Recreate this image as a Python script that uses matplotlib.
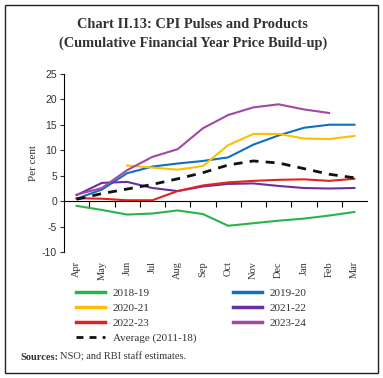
import matplotlib
matplotlib.use("Agg")
import matplotlib.pyplot as plt
from matplotlib.patches import Rectangle
from matplotlib.lines import Line2D
from matplotlib.transforms import blended_transform_factory

plt.rcParams["axes.unicode_minus"] = False

months = ["Apr", "May", "Jun", "Jul", "Aug", "Sep", "Oct", "Nov", "Dec", "Jan", "Feb", "Mar"]

s2018 = [-0.9, -1.7, -2.6, -2.4, -1.8, -2.5, -4.8, -4.3, -3.8, -3.4, -2.8, -2.1]
s2019 = [0.5, 2.3, 5.5, 6.8, 7.4, 7.9, 8.6, 11.1, 12.9, 14.4, 15.0, 15.0]
s2020 = [None, None, 7.0, 6.6, 6.2, 6.9, 11.0, 13.2, 13.2, 12.3, 12.2, 12.8]
s2021 = [1.2, 3.6, 3.8, 2.6, 2.0, 2.9, 3.4, 3.5, 3.0, 2.6, 2.5, 2.6]
s2022 = [0.6, 0.5, 0.2, 0.2, 2.0, 3.1, 3.7, 4.0, 4.2, 4.3, 4.0, 4.4]
s2023 = [1.3, 2.6, 6.1, 8.7, 10.2, 14.3, 16.9, 18.4, 19.0, 18.0, 17.3, None]
avg = [0.4, 1.5, 2.4, 3.3, 4.4, 5.6, 7.1, 7.9, 7.5, 6.4, 5.3, 4.6]

series = [
    ("2018-19", s2018, "#2bb34b", "-"),
    ("2020-21", s2020, "#ffbf00", "-"),
    ("2022-23", s2022, "#e2231a", "-"),
    ("Average (2011-18)", avg, "#111111", "--"),
    ("2019-20", s2019, "#0f6fc0", "-"),
    ("2021-22", s2021, "#6a2fa0", "-"),
    ("2023-24", s2023, "#a347a6", "-"),
]
draw_order = ["2018-19", "2019-20", "2020-21", "2021-22", "2022-23", "2023-24", "Average (2011-18)"]

serif = ["Liberation Serif", "DejaVu Serif"]
sans = ["Liberation Sans", "DejaVu Sans"]

fig = plt.figure(figsize=(3.83, 3.78), dpi=100)
fig.patches.append(Rectangle((5 / 383, 1 - 373 / 378), 373 / 383, 368 / 378,
                             transform=fig.transFigure, fill=False,
                             edgecolor="#222222", linewidth=1.0))

fig.text(0.503, 1 - 25 / 378, "Chart II.13: CPI Pulses and Products",
         ha="center", va="center", fontsize=10.4, fontweight="bold", family=serif, color="#333333")
fig.text(0.503, 1 - 43 / 378, "(Cumulative Financial Year Price Build-up)",
         ha="center", va="center", fontsize=10.4, fontweight="bold", family=serif, color="#333333")

ax = fig.add_axes([64 / 383, 1 - 252.3 / 378, (367 - 64) / 383, (252.3 - 73.7) / 378])
x = list(range(len(months)))
lookup = {s[0]: s for s in series}
handles = {}
for name in draw_order:
    lab, vals, col, ls = lookup[name]
    xs = [xi for xi, v in zip(x, vals) if v is not None]
    ys = [v for v in vals if v is not None]
    if ls == "--":
        ln, = ax.plot(xs, ys, color=col, lw=2.0, ls=(0, (3.2, 2.6)), label=lab, zorder=3)
    else:
        ln, = ax.plot(xs, ys, color=col, lw=1.5, label=lab, zorder=2)
    handles[lab] = ln

ax.set_xlim(-0.5, 11.5)
ax.set_ylim(-10, 25)
ax.set_yticks(range(-10, 26, 5))
for sp in ["top", "right"]:
    ax.spines[sp].set_visible(False)
ax.spines["bottom"].set_position(("data", 0))
ax.spines["left"].set_linewidth(0.8)
ax.spines["bottom"].set_linewidth(0.8)
ax.set_xticks([i + 0.5 for i in range(11)])
ax.set_xticklabels([])
ax.tick_params(axis="x", direction="out", length=4, width=0.8)
ax.tick_params(axis="y", direction="out", length=3, width=0.8, labelsize=7.5, pad=2, colors="#333333")
for t in ax.get_yticklabels():
    t.set_family(sans)
ax.set_ylabel("Per cent", family=serif, fontsize=8, color="#333333", labelpad=3)

tr = blended_transform_factory(ax.transData, ax.transAxes)
for i, m in enumerate(months):
    ax.text(i, -0.05, m, transform=tr, rotation=90, ha="center", va="top",
            fontsize=7.5, family=serif, color="#333333")

order = ["2018-19", "2020-21", "2022-23", "Average (2011-18)", "2019-20", "2021-22", "2023-24"]
legend_handles = []
for lab in order:
    h = handles[lab]
    if lab.startswith("Average"):
        legend_handles.append(Line2D([], [], color=h.get_color(), lw=2.0, ls=(0, (2.5, 2.2))))
    else:
        legend_handles.append(Line2D([], [], color=h.get_color(), lw=2.5))
leg = fig.legend(legend_handles, order, ncol=2, loc="upper left",
                 bbox_to_anchor=(76 / 383, 1 - 288 / 378), frameon=False,
                 prop={"family": serif, "size": 8}, handlelength=2.6, handletextpad=0.7,
                 columnspacing=3.3, labelspacing=0.48, borderaxespad=0, borderpad=0)
for t in leg.get_texts():
    t.set_color("#333333")

t1 = fig.text(20 / 383, 1 - 357 / 378, "Sources:",
              ha="left", va="center", fontsize=7.5, family=serif, fontweight="bold", color="#333333")
fig.canvas.draw()
bb = t1.get_window_extent()
fig.text((bb.x1 + 2) / 383, 1 - 357 / 378, "NSO; and RBI staff estimates.",
         ha="left", va="center", fontsize=7.5, family=serif, color="#333333")

fig.savefig("out.png", dpi=100)
